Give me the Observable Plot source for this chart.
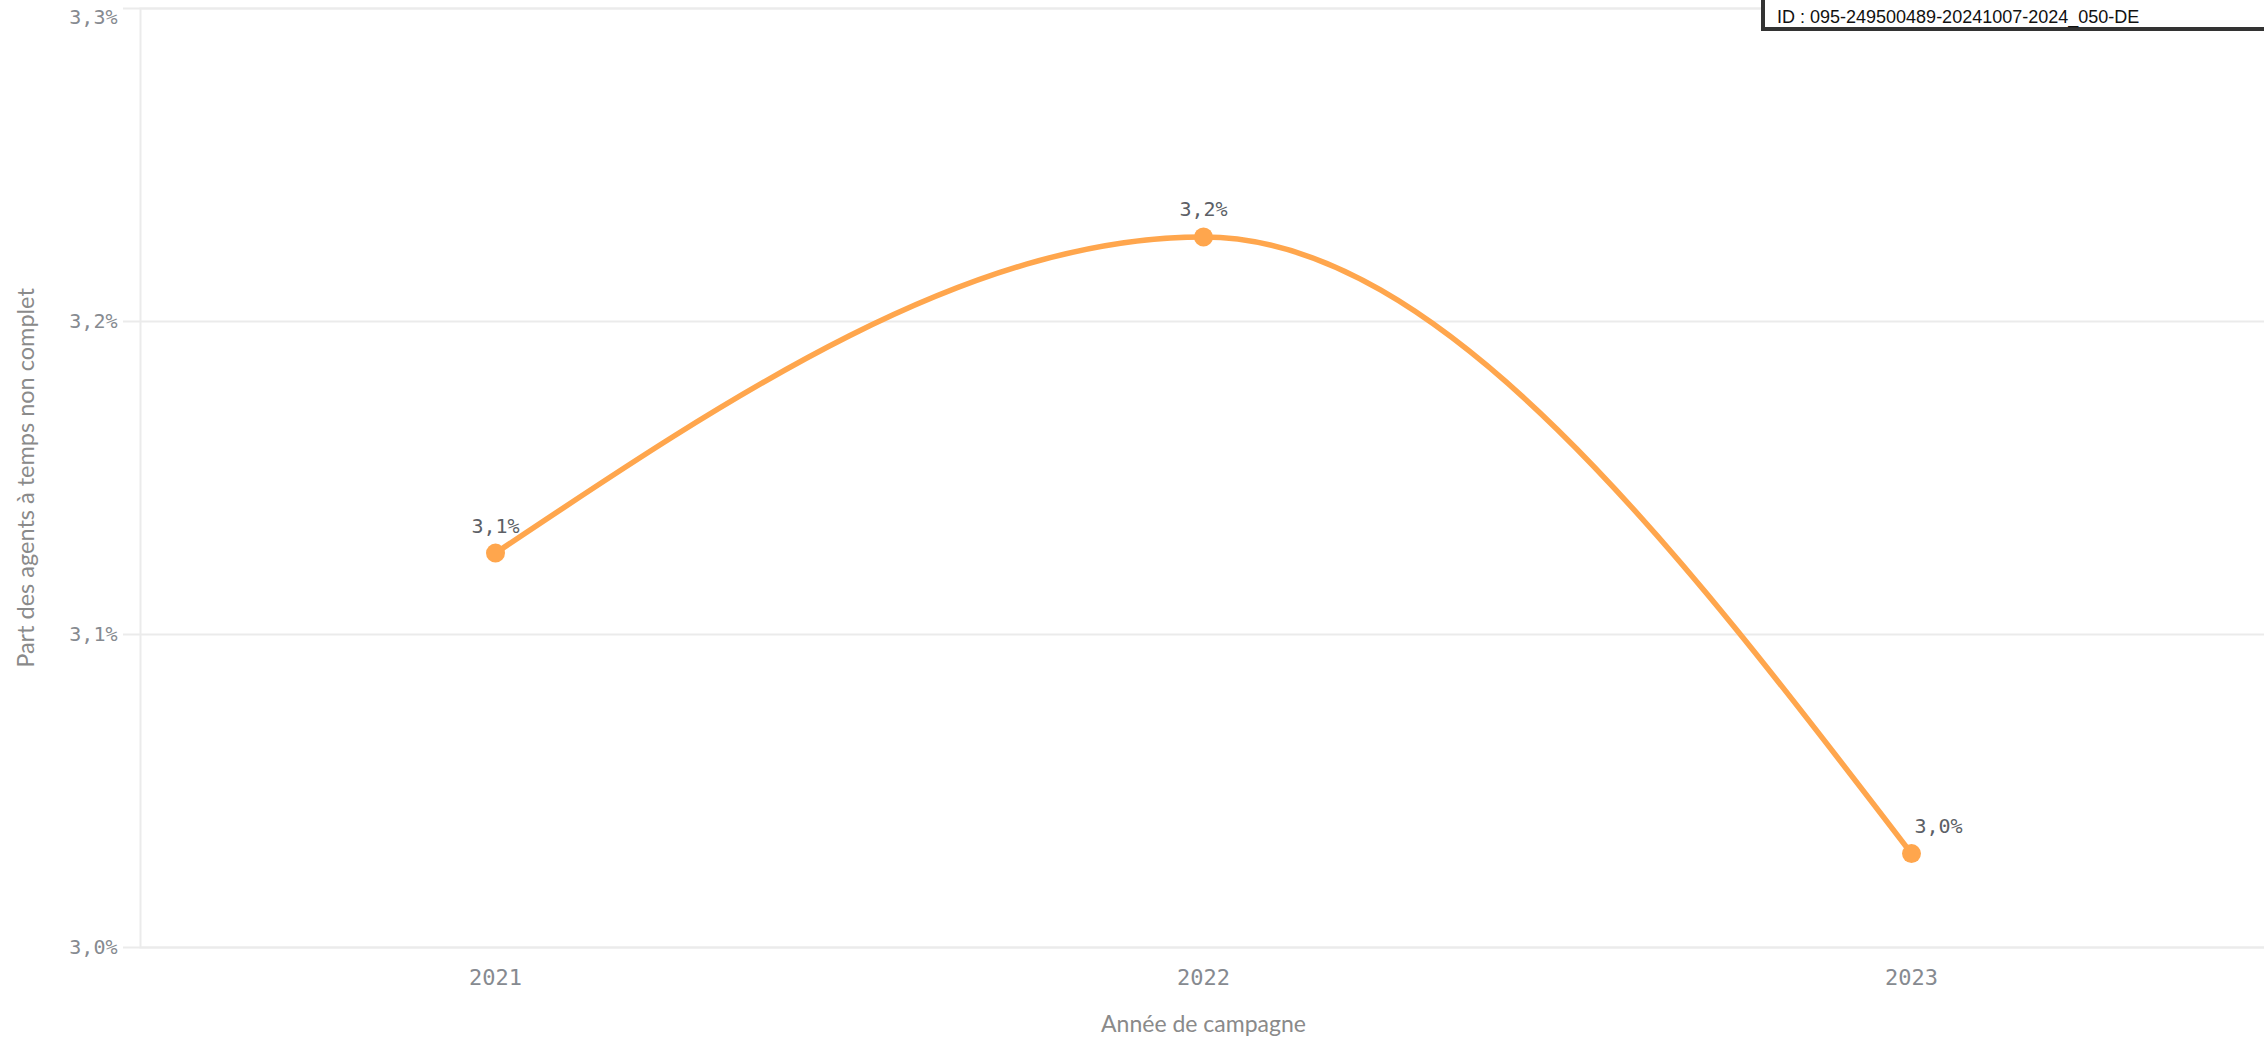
<!DOCTYPE html>
<html>
<head>
<meta charset="utf-8">
<script src="https://cdn.jsdelivr.net/npm/d3@7"></script>
<script src="https://cdn.jsdelivr.net/npm/@observablehq/plot@0.6"></script>
<style>
  html, body { margin: 0; padding: 0; background: #fff; }
  #wrap { position: relative; width: 2264px; height: 1040px; overflow: hidden; }
  #chart svg { max-width: none !important; }
  #idbox {
    position: absolute; left: 1761px; top: -4px; width: 560px; height: 35px;
    border: 4px solid #333; background: #fff; box-sizing: border-box;
    font-family: "Liberation Sans", Arial, sans-serif; font-size: 18px; color: #111;
    padding: 4px 0 0 12px; line-height: 26px;
  }
</style>
</head>
<body>
<div id="wrap">
  <div id="chart"></div>
  <div id="idbox">ID : 095-249500489-20241007-2024_050-DE</div>
</div>
<script>
const years = ["2021", "2022", "2023"];
const shares = [3.126, 3.227, 3.030];
const yTicks = [3.0, 3.1, 3.2, 3.3];
const xTitle = "Année de campagne";
const yTitle = "Part des agents à temps non complet";

const data = years.map((y, i) => ({year: y, value: shares[i]}));
const fmt = v => v.toFixed(1).replace(".", ",") + "%";
const gridColor = "#ebebeb";
const orange = "#ffa64d";
const monoFont = "'DejaVu Sans Mono', monospace";
const titleFont = "Lato, sans-serif";

const chart = Plot.plot({
  width: 2272,
  height: 1040,
  marginLeft: 140,
  marginRight: 6,
  marginTop: 8,
  marginBottom: 93,
  style: {background: "#fff", overflow: "visible", maxWidth: "none"},
  x: {type: "point", domain: years, padding: 0.5},
  y: {domain: [3.0, 3.3]},
  marks: [
    Plot.gridY(yTicks, {stroke: gridColor, strokeOpacity: 1, strokeWidth: 2}),
    Plot.frame({stroke: gridColor, strokeWidth: 2}),
    Plot.axisY(yTicks, {
      tickSize: 17, tickPadding: 6, stroke: gridColor, strokeWidth: 2, strokeOpacity: 1,
      tickFormat: d => d === 3.3 ? "" : fmt(d),
      fontSize: 20, fontFamily: monoFont, fill: "#868a90", label: null
    }),
    Plot.text([3.3], {
      y: d => d, text: d => fmt(d), frameAnchor: "left", textAnchor: "end",
      dx: -23, dy: 9, fontSize: 20, fontFamily: monoFont, fill: "#868a90"
    }),
    Plot.axisX({
      tickSize: 0, tickPadding: 22, fontSize: 22, fontFamily: monoFont, fill: "#868a90",
      label: null
    }),
    Plot.text([xTitle], {
      frameAnchor: "bottom", textAnchor: "middle", lineAnchor: "middle", dy: 77,
      fontSize: 23, fontFamily: titleFont, fill: "#8a8a8a"
    }),
    Plot.text([yTitle], {
      frameAnchor: "left", textAnchor: "middle", lineAnchor: "middle", rotate: -90, dx: -114,
      fontSize: 23.5, fontFamily: titleFont, fill: "#8a8a8a"
    }),
    Plot.line(data, {x: "year", y: "value", stroke: orange, strokeWidth: 5.5, curve: "monotone-x"}),
    Plot.dot(data, {x: "year", y: "value", fill: orange, r: 9.5}),
    Plot.text(data.slice(0, 2), {
      x: "year", y: "value", text: d => fmt(d.value), dy: -27,
      fontSize: 20, fontFamily: monoFont, fill: "#5c5f66"
    }),
    Plot.text(data.slice(2), {
      x: "year", y: "value", text: d => fmt(d.value), dy: -27, dx: 3, textAnchor: "start",
      fontSize: 20, fontFamily: monoFont, fill: "#5c5f66"
    })
  ]
});
document.getElementById("chart").appendChild(chart);
</script>
</body>
</html>
